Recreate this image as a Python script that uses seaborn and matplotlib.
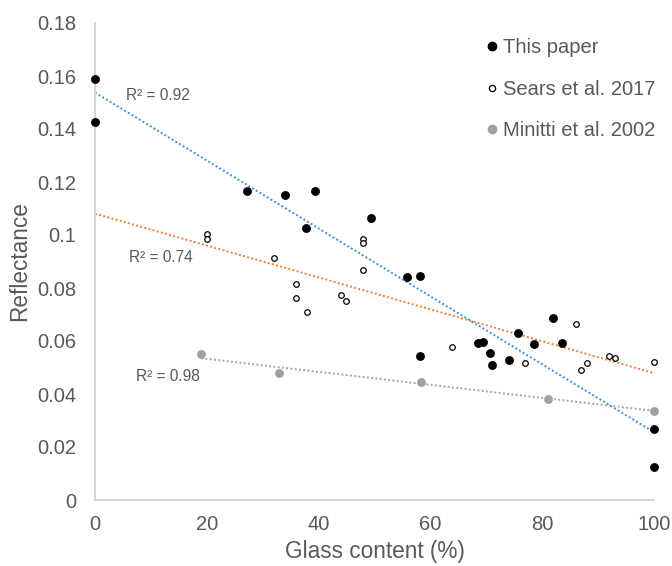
import numpy as np
import pandas as pd
import matplotlib
matplotlib.use("Agg")
import matplotlib.pyplot as plt
import seaborn as sns
from matplotlib.lines import Line2D

# ---- data ----
this_x = [0, 0, 27.2, 34.0, 39.3, 37.7, 49.3, 55.9, 58.1, 58.1, 81.9, 75.7,
          78.5, 83.5, 68.5, 69.4, 70.7, 71.0, 74.1, 100, 100]
this_y = [0.159, 0.1428, 0.1165, 0.1151, 0.1165, 0.1025, 0.1064, 0.0840, 0.0844,
          0.0543, 0.0687, 0.0629, 0.0589, 0.0593, 0.0593, 0.0595, 0.0556, 0.0508,
          0.0530, 0.0268, 0.0123]

sears_x = [20.0, 20.0, 32.0, 36.0, 36.0, 37.9, 44.0, 44.9, 47.9, 47.9, 47.9,
           63.9, 77.0, 86.0, 87.0, 88.0, 91.9, 93.0, 100]
sears_y = [0.1002, 0.0985, 0.0912, 0.0814, 0.0764, 0.0711, 0.0775, 0.0751,
           0.0985, 0.0970, 0.0868, 0.0577, 0.0516, 0.0665, 0.0491, 0.0516,
           0.0545, 0.0537, 0.0520]

minitti_x = [19.0, 33.0, 58.3, 81.1, 100]
minitti_y = [0.0550, 0.0478, 0.0447, 0.0382, 0.0337]

series_names = ["This paper", "Sears et al. 2017", "Minitti et al. 2002"]
r2_labels = ["R² = 0.92", "R² = 0.74", "R² = 0.98"]
x_ticks = [0, 20, 40, 60, 80, 100]
y_ticks = [0, 0.02, 0.04, 0.06, 0.08, 0.1, 0.12, 0.14, 0.16, 0.18]
y_tick_labels = ["0", "0.02", "0.04", "0.06", "0.08", "0.1", "0.12", "0.14", "0.16", "0.18"]

sns.set_style("white")
plt.rcParams['font.family'] = ['Liberation Sans', 'DejaVu Sans']

fig = plt.figure(figsize=(6.72, 5.66), dpi=100)
ax = fig.add_axes([95/672, 1-500/566, (654-95)/672, (500-23)/566])

TEXT = "#595959"
BLUE = "#3d8fe0"
ORANGE = "#f07f33"
GREY = "#a6a6a6"

df_this = pd.DataFrame({"x": this_x, "y": this_y})
df_sears = pd.DataFrame({"x": sears_x, "y": sears_y})
df_min = pd.DataFrame({"x": minitti_x, "y": minitti_y})

# trendlines (least squares)
def trend(df, x0, x1, color):
    b, a = np.polyfit(df["x"], df["y"], 1)
    xs = np.array([x0, x1])
    ax.plot(xs, a + b * xs, color=color, lw=1.4, ls=(0, (1, 1.2)), zorder=2, clip_on=False)

trend(df_this, 0, 100, BLUE)
trend(df_sears, 0, 100, ORANGE)
trend(df_min, 19, 100, GREY)

sns.scatterplot(data=df_this, x="x", y="y", ax=ax, color="black", s=34,
                edgecolor="black", linewidth=0.5, zorder=3, clip_on=False)
sns.scatterplot(data=df_sears, x="x", y="y", ax=ax, facecolor="white", s=16,
                edgecolor="black", linewidth=0.9, zorder=4, clip_on=False)
sns.scatterplot(data=df_min, x="x", y="y", ax=ax, color="#a0a0a0", s=34,
                edgecolor="#a0a0a0", linewidth=0.5, zorder=3, clip_on=False)

ax.set_xlim(0, 100)
ax.set_ylim(0, 0.18)
ax.set_xticks(x_ticks)
ax.set_xticklabels([str(t) for t in x_ticks])
ax.set_yticks(y_ticks)
ax.set_yticklabels(y_tick_labels)
ax.tick_params(axis="both", length=0, labelsize=14.5, labelcolor=TEXT)
ax.tick_params(axis="y", pad=13.5)
ax.tick_params(axis="x", pad=11)
ax.set_xlabel("Glass content (%)", fontsize=16.3, color=TEXT, labelpad=4)
ax.set_ylabel("Reflectance", fontsize=16.3, color=TEXT, labelpad=4)

for side in ["top", "right"]:
    ax.spines[side].set_visible(False)
for side in ["left", "bottom"]:
    ax.spines[side].set_color("#d0d0d0")
    ax.spines[side].set_linewidth(1.3)

# R² annotations
ax.text(5.5, 0.1525, r2_labels[0], fontsize=11.2, color=TEXT, va="center")
ax.text(6.0, 0.0915, r2_labels[1], fontsize=11.2, color=TEXT, va="center")
ax.text(7.3, 0.0465, r2_labels[2], fontsize=11.2, color=TEXT, va="center")

handles = [
    Line2D([], [], ls="", marker="o", color="black", markersize=6),
    Line2D([], [], ls="", marker="o", markerfacecolor="white", markeredgecolor="black",
           markersize=4.5, markeredgewidth=0.9),
    Line2D([], [], ls="", marker="o", color="#a0a0a0", markersize=6),
]
leg = ax.legend(handles, series_names, loc="upper left", bbox_to_anchor=(0.689, 0.985),
                frameon=False, fontsize=14.5, handlelength=0.4, handletextpad=0.35,
                labelspacing=1.11, borderaxespad=0)
for t in leg.get_texts():
    t.set_color(TEXT)

fig.savefig("out.png", dpi=100)
